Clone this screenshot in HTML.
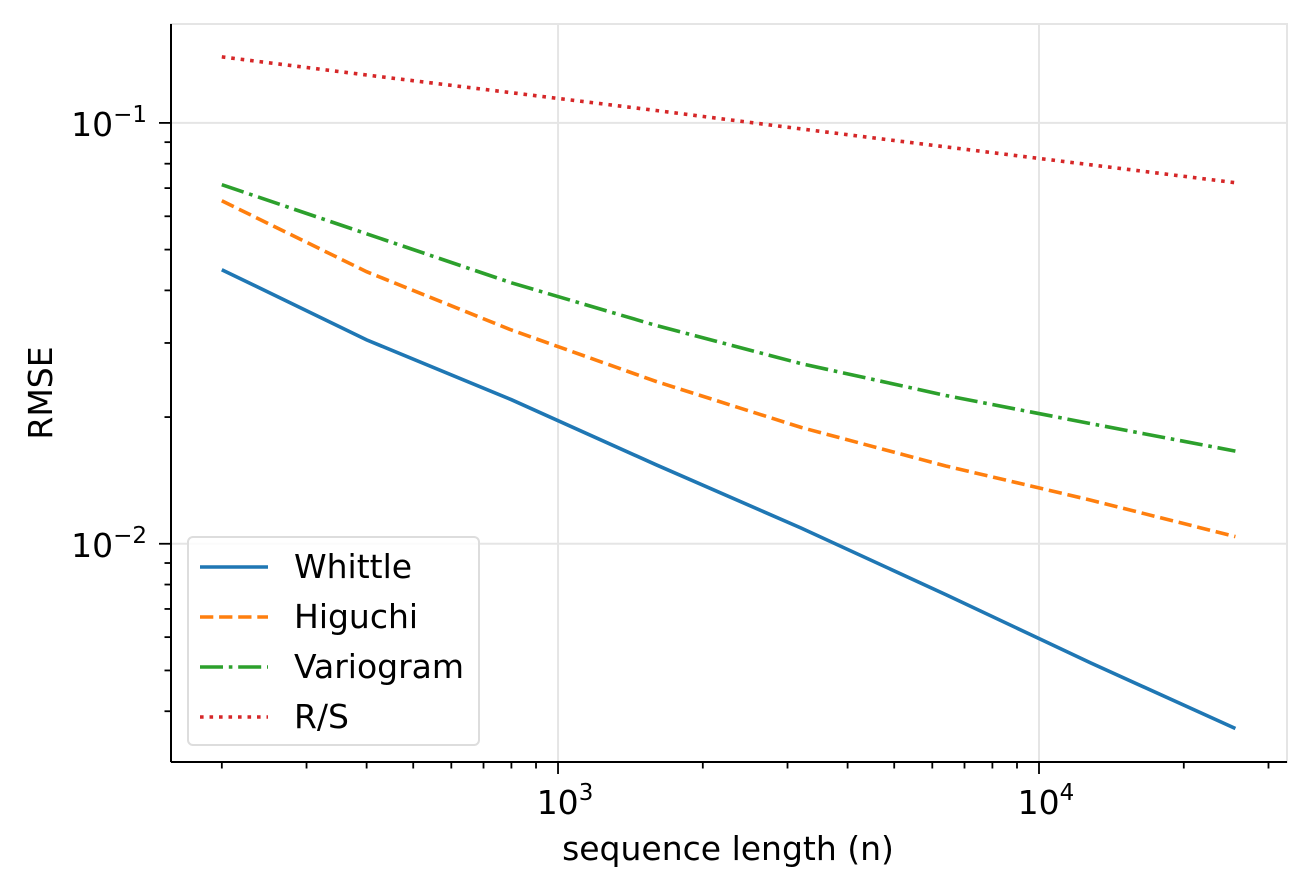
<!DOCTYPE html>
<html><head><meta charset="utf-8"><style>
body{margin:0;background:#fff}
svg{font-family:"DejaVu Sans","Liberation Sans",sans-serif}
</style></head><body>
<svg id="c" width="1310" height="891" xmlns="http://www.w3.org/2000/svg"></svg>
<script>
const nValues=[200,400,800,1600,3200,6400,12800,25600];
const whittle=[0.0448,0.0305,0.0220,0.0154,0.0109,0.00757,0.00521,0.00364];
const higuchi=[0.0653,0.0443,0.0322,0.0243,0.0189,0.0153,0.0127,0.0104];
const variogram=[0.0713,0.0545,0.0417,0.0330,0.0268,0.0225,0.0193,0.0166];
const rs=[0.1435,0.130,0.118,0.107,0.0968,0.0877,0.0795,0.0721];
const seriesNames=["Whittle","Higuchi","Variogram","R/S"];
const xTickVals=[1000,10000];
const xTickExp=["3","4"];
const yTickVals=[0.1,0.01];
const yTickExp=["−1","−2"];

const L=171,R=1287,T=24,B=762;
const xmin=Math.log10(156.8),xmax=Math.log10(32780);
const ymin=Math.log10(0.00303),ymax=Math.log10(0.1718);
const X=v=>L+(Math.log10(v)-xmin)/(xmax-xmin)*(R-L);
const Y=v=>B-(Math.log10(v)-ymin)/(ymax-ymin)*(B-T);
const svg=document.getElementById('c');
const NS="http://www.w3.org/2000/svg";
function mk(t,a,p){const e=document.createElementNS(NS,t);for(const k in a)e.setAttribute(k,a[k]);(p||svg).appendChild(e);return e;}

for(const v of xTickVals){const g=mk('line',{x1:X(v),x2:X(v),y1:T,y2:B,stroke:'#e5e5e5','stroke-width':2});

}
for(const v of yTickVals){const g=mk('line',{x1:L,x2:R,y1:Y(v),y2:Y(v),stroke:'#e5e5e5','stroke-width':2});

}
mk('rect',{x:L,y:T,width:R-L,height:B-T,fill:'none',stroke:'#e5e5e5','stroke-width':2});

const series=[[whittle,'#1f77b4','none'],[higuchi,'#ff7f0e','13.3,5.8'],[variogram,'#2ca02c','23,5.8,3.6,5.8'],[rs,'#d62728','3.6,5.9']];
series.forEach((s,i)=>{
  const d=s[0].map((v,j)=>(j?'L':'M')+X(nValues[j]).toFixed(1)+','+Y(v).toFixed(1)).join('');
  const p=mk('path',{d:d,fill:'none',stroke:s[1],'stroke-width':3.6,'stroke-dasharray':s[2]});
  
  
});

mk('line',{x1:L,x2:L,y1:T,y2:B,stroke:'#000','stroke-width':2});
mk('line',{x1:L,x2:R,y1:B,y2:B,stroke:'#000','stroke-width':2});

for(let e=2;e<=4;e++)for(let m=1;m<10;m++){const v=m*Math.pow(10,e);if(v<156.8||v>32780)continue;
 const major=m===1;mk('line',{x1:X(v),x2:X(v),y1:B,y2:B+(major?12:6.5),stroke:'#000','stroke-width':1.8});}
xTickVals.forEach((v,i)=>{const t=mk('text',{x:X(v)+7,y:814,'font-size':33,'text-anchor':'middle'});
 t.innerHTML='10<tspan dy="-14" font-size="23">'+xTickExp[i]+'</tspan>';
 
 });
for(let e=-3;e<=-1;e++)for(let m=1;m<10;m++){const v=m*Math.pow(10,e);if(v<0.00303||v>0.1718)continue;
 const major=m===1;mk('line',{x1:L,x2:L-(major?12:6.5),y1:Y(v),y2:Y(v),stroke:'#000','stroke-width':1.8});}
yTickVals.forEach((v,i)=>{const t=mk('text',{x:147,y:Y(v)+13,'font-size':33,'text-anchor':'end'});
 t.innerHTML='10<tspan dy="-14" font-size="23">'+yTickExp[i]+'</tspan>';
 
 });

const xt=mk('text',{x:728,y:860,'font-size':33,'text-anchor':'middle'});xt.textContent='sequence length (n)';


const yt=mk('text',{x:52,y:(T+B)/2,'font-size':33,'text-anchor':'middle',transform:'rotate(-90 52 '+((T+B)/2)+')'});yt.textContent='RMSE';



const lg=mk('g',{});


mk('rect',{x:188,y:537,width:291,height:208,rx:5,fill:'#fff','fill-opacity':0.85,stroke:'#ddd','stroke-width':2},lg);
series.forEach((s,i)=>{const y=567+i*50;
 mk('line',{x1:200,x2:268,y1:y,y2:y,stroke:s[1],'stroke-width':3.6,'stroke-dasharray':s[2]},lg);
 const t=mk('text',{x:294,y:y+11,'font-size':33},lg);t.textContent=seriesNames[i];
 
 });
</script>
</body></html>
